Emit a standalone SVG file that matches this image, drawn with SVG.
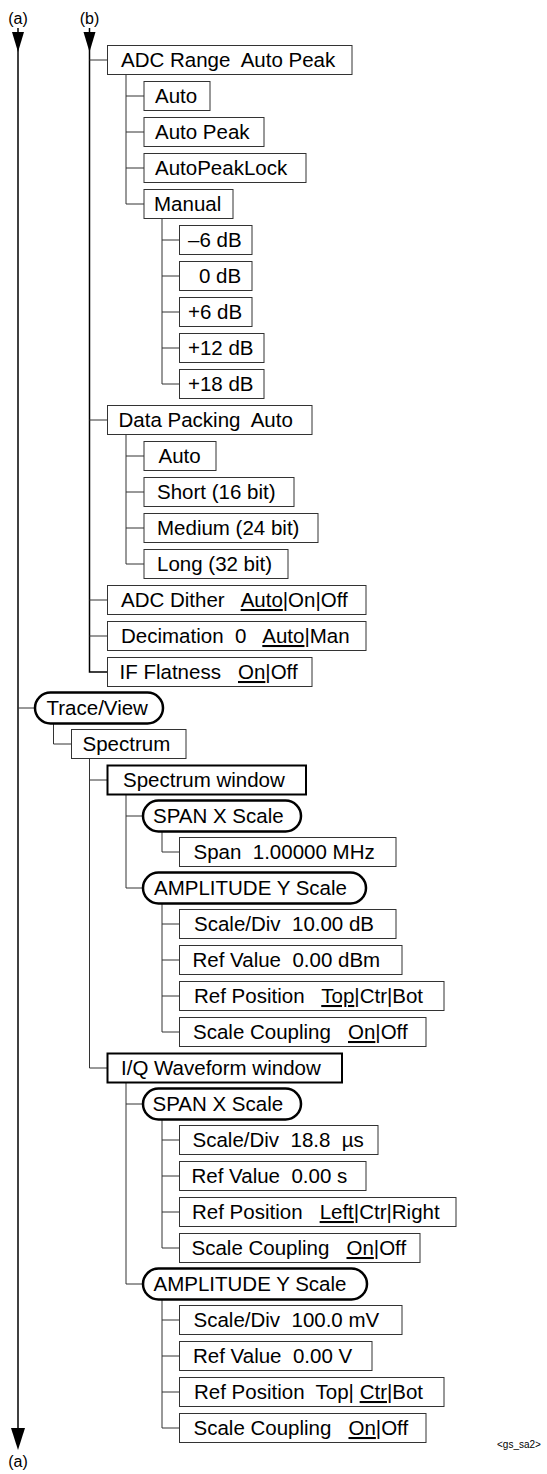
<svg xmlns="http://www.w3.org/2000/svg" width="547" height="1474" viewBox="0 0 547 1474">
<style>
.box{fill:#fff;stroke:#333;stroke-width:1}
.bold{fill:#fff;stroke:#000;stroke-width:2}
.pill{fill:#fff;stroke:#000;stroke-width:2.5}
.t{font-family:"Liberation Sans",Arial,sans-serif;font-size:20.5px;fill:#000;white-space:pre}
.u{text-decoration:underline}
.lbl{font-family:"Liberation Sans",Arial,sans-serif;font-size:16px;fill:#000;text-anchor:middle}
.tag{font-family:"Liberation Sans",Arial,sans-serif;font-size:10px;fill:#000}
.c{fill:none;stroke:#333;stroke-width:1}
.main{fill:none;stroke:#000;stroke-width:1.5}
.ah{fill:#000}
</style>
<g id="connectors">
<path class="main" d="M18,28 V1432"/>
<path class="main" d="M89.5,28 V672 H107.5"/>
<polygon class="ah" points="12,32 24,32 18,52"/>
<polygon class="ah" points="83.5,32 95.5,32 89.5,52"/>
<polygon class="ah" points="11,1428 25,1428 18,1450"/>
<path class="c" d="M89.5,60 H107.5 M89.5,420 H107.5 M89.5,600 H107.5 M89.5,636 H107.5"/>
<path class="c" d="M126,74.5 V204 H144 M126,96 H144 M126,132 H144 M126,168 H144"/>
<path class="c" d="M162,218.5 V384 H179.5 M162,240 H179.5 M162,276 H179.5 M162,312 H179.5 M162,348 H179.5"/>
<path class="c" d="M126,434.5 V564 H144 M126,456 H144 M126,492 H144 M126,528 H144"/>
<path class="c" d="M18,708 H35"/>
<path class="c" d="M53.5,723.5 V744 H71.5"/>
<path class="c" d="M89.5,758.5 V1068 H107.5 M89.5,780 H107.5"/>
<path class="c" d="M126,795 V888 H143 M126,816 H143"/>
<path class="c" d="M162,831.5 V852 H179.5"/>
<path class="c" d="M162,903.5 V1032 H179.5 M162,924 H179.5 M162,960 H179.5 M162,996 H179.5"/>
<path class="c" d="M126,1083 V1284 H143 M126,1104 H143"/>
<path class="c" d="M162,1119.5 V1248 H179.5 M162,1140 H179.5 M162,1176 H179.5 M162,1212 H179.5"/>
<path class="c" d="M162,1299.5 V1428 H179.5 M162,1320 H179.5 M162,1356 H179.5 M162,1392 H179.5"/>
</g>
<g id="labels">
<text class="lbl" x="18" y="24">(a)</text>
<text class="lbl" x="89.5" y="24">(b)</text>
<text class="lbl" x="18" y="1467">(a)</text>
<text class="tag" x="497" y="1448">&lt;gs_sa2&gt;</text>
</g>
<g id="n-adc-range"><rect class="box" x="107.5" y="45.5" width="244.5" height="29"/><text class="t" x="121" y="67">ADC Range  Auto Peak</text></g>
<g id="n-adc-auto"><rect class="box" x="144" y="81.5" width="66" height="29"/><text class="t" x="155" y="103">Auto</text></g>
<g id="n-adc-autopeak"><rect class="box" x="144" y="117.5" width="120" height="29"/><text class="t" x="155" y="139">Auto Peak</text></g>
<g id="n-adc-autopeaklock"><rect class="box" x="144" y="153.5" width="162" height="29"/><text class="t" x="155" y="175">AutoPeakLock</text></g>
<g id="n-adc-manual"><rect class="box" x="144" y="189.5" width="89" height="29"/><text class="t" x="154" y="211">Manual</text></g>
<g id="n-m6"><rect class="box" x="179.5" y="225.5" width="72.5" height="29"/><text class="t" x="188" y="247">–6 dB</text></g>
<g id="n-0"><rect class="box" x="179.5" y="261.5" width="72.5" height="29"/><text class="t" x="199" y="283">0 dB</text></g>
<g id="n-p6"><rect class="box" x="179.5" y="297.5" width="72.5" height="29"/><text class="t" x="188" y="319">+6 dB</text></g>
<g id="n-p12"><rect class="box" x="179.5" y="333.5" width="84.5" height="29"/><text class="t" x="188" y="355">+12 dB</text></g>
<g id="n-p18"><rect class="box" x="179.5" y="369.5" width="84.5" height="29"/><text class="t" x="188" y="391">+18 dB</text></g>
<g id="n-datapacking"><rect class="box" x="107.5" y="405.5" width="204.5" height="29"/><text class="t" x="118.5" y="427">Data Packing  Auto</text></g>
<g id="n-dp-auto"><rect class="box" x="144" y="441.5" width="72" height="29"/><text class="t" x="158.5" y="463">Auto</text></g>
<g id="n-dp-short"><rect class="box" x="144" y="477.5" width="150" height="29"/><text class="t" x="157" y="499">Short (16 bit)</text></g>
<g id="n-dp-medium"><rect class="box" x="144" y="513.5" width="174" height="29"/><text class="t" x="157" y="535">Medium (24 bit)</text></g>
<g id="n-dp-long"><rect class="box" x="144" y="549.5" width="144" height="29"/><text class="t" x="157" y="571">Long (32 bit)</text></g>
<g id="n-adcdither"><rect class="box" x="107.5" y="585.5" width="258.5" height="29"/><text class="t" x="121" y="607">ADC Dither   <tspan class="u">Auto</tspan>|On|Off</text></g>
<g id="n-decimation"><rect class="box" x="107.5" y="621.5" width="258.5" height="29"/><text class="t" x="121" y="643">Decimation  0   <tspan class="u">Auto</tspan>|Man</text></g>
<g id="n-ifflatness"><rect class="box" x="107.5" y="657.5" width="204.5" height="29"/><text class="t" x="119.5" y="679">IF Flatness   <tspan class="u">On</tspan>|Off</text></g>
<g id="n-traceview"><rect class="pill" x="35" y="692.5" width="128" height="31" rx="15.5"/><text class="t" x="46.5" y="715">Trace/View</text></g>
<g id="n-spectrum"><rect class="box" x="71.5" y="729.5" width="114.5" height="29"/><text class="t" x="82.5" y="751">Spectrum</text></g>
<g id="n-spectrum-window"><rect class="bold" x="107.5" y="765.5" width="198.5" height="29"/><text class="t" x="123" y="787">Spectrum window</text></g>
<g id="n-sw-span"><rect class="pill" x="143" y="800.5" width="158" height="31" rx="15.5"/><text class="t" x="153" y="823">SPAN X Scale</text></g>
<g id="n-sw-span-val"><rect class="box" x="179.5" y="837.5" width="216.5" height="29"/><text class="t" x="193.5" y="859">Span  1.00000 MHz</text></g>
<g id="n-sw-amp"><rect class="pill" x="143" y="872.5" width="223" height="31" rx="15.5"/><text class="t" x="154" y="895">AMPLITUDE Y Scale</text></g>
<g id="n-sw-scalediv"><rect class="box" x="179.5" y="909.5" width="216.5" height="29"/><text class="t" x="194" y="931">Scale/Div  10.00 dB</text></g>
<g id="n-sw-refvalue"><rect class="box" x="179.5" y="945.5" width="222.5" height="29"/><text class="t" x="192.5" y="967">Ref Value  0.00 dBm</text></g>
<g id="n-sw-refpos"><rect class="box" x="179.5" y="981.5" width="264.5" height="29"/><text class="t" x="194" y="1003">Ref Position   <tspan class="u">Top</tspan>|Ctr|Bot</text></g>
<g id="n-sw-coupling"><rect class="box" x="179.5" y="1017.5" width="246.5" height="29"/><text class="t" x="193" y="1039">Scale Coupling   <tspan class="u">On</tspan>|Off</text></g>
<g id="n-iq-window"><rect class="bold" x="107.5" y="1053.5" width="234.5" height="29"/><text class="t" x="121" y="1075">I/Q Waveform window</text></g>
<g id="n-iq-span"><rect class="pill" x="143" y="1088.5" width="158" height="31" rx="15.5"/><text class="t" x="152.5" y="1111">SPAN X Scale</text></g>
<g id="n-iq-span-scalediv"><rect class="box" x="179.5" y="1125.5" width="198.5" height="29"/><text class="t" x="192.5" y="1147">Scale/Div  18.8  µs</text></g>
<g id="n-iq-span-refvalue"><rect class="box" x="179.5" y="1161.5" width="186.5" height="29"/><text class="t" x="191.5" y="1183">Ref Value  0.00 s</text></g>
<g id="n-iq-span-refpos"><rect class="box" x="179.5" y="1197.5" width="276.5" height="29"/><text class="t" x="192" y="1219">Ref Position   <tspan class="u">Left</tspan>|Ctr|Right</text></g>
<g id="n-iq-span-coupling"><rect class="box" x="179.5" y="1233.5" width="240.5" height="29"/><text class="t" x="191.5" y="1255">Scale Coupling   <tspan class="u">On</tspan>|Off</text></g>
<g id="n-iq-amp"><rect class="pill" x="143" y="1268.5" width="224" height="31" rx="15.5"/><text class="t" x="153.5" y="1291">AMPLITUDE Y Scale</text></g>
<g id="n-iq-amp-scalediv"><rect class="box" x="179.5" y="1305.5" width="222.5" height="29"/><text class="t" x="193.5" y="1327">Scale/Div  100.0 mV</text></g>
<g id="n-iq-amp-refvalue"><rect class="box" x="179.5" y="1341.5" width="192.5" height="29"/><text class="t" x="193" y="1363">Ref Value  0.00 V</text></g>
<g id="n-iq-amp-refpos"><rect class="box" x="179.5" y="1377.5" width="264.5" height="29"/><text class="t" x="194" y="1399">Ref Position  Top| <tspan class="u">Ctr</tspan>|Bot</text></g>
<g id="n-iq-amp-coupling"><rect class="box" x="179.5" y="1413.5" width="246.5" height="29"/><text class="t" x="193.5" y="1435">Scale Coupling   <tspan class="u">On</tspan>|Off</text></g>
</svg>
